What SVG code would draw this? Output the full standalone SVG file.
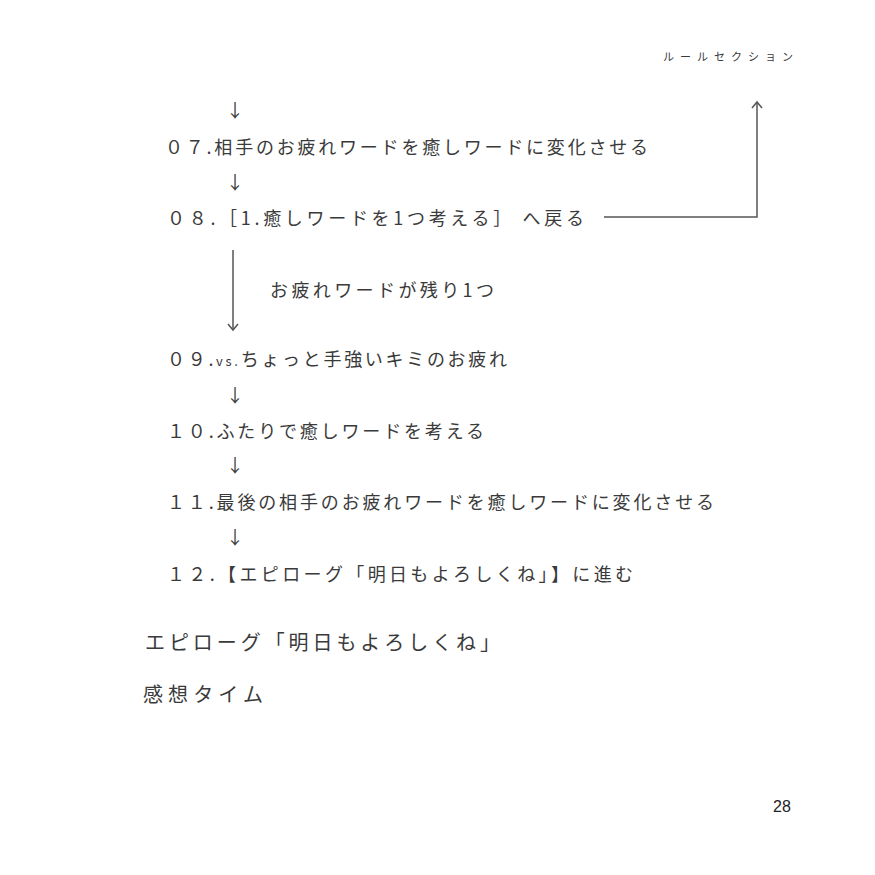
<svg xmlns="http://www.w3.org/2000/svg" width="875" height="875" viewBox="0 0 875 875">
<defs>
<style>
.t{font-family:"Noto Sans CJK JP","Noto Sans",sans-serif;fill:#3a3a3a;font-size:18px;}
.s{font-size:13px;}
.b{font-size:20px;}
.h{font-size:11px;}
.a{font-family:"Noto Sans CJK JP",sans-serif;fill:#3a3a3a;font-size:18px;text-anchor:middle;}
.c{fill:none;stroke:#555;stroke-width:1.5;}
</style>
<marker id="op" viewBox="0 0 12 12" refX="8" refY="6" markerWidth="12" markerHeight="12" markerUnits="userSpaceOnUse" orient="auto">
<path d="M2 1 L8 6 L2 11" fill="none" stroke="#555" stroke-width="1.5"/>
</marker>
</defs>
<rect width="875" height="875" fill="#fff"/>
<g id="header"><text class="t h" x="663" y="61" textLength="130" lengthAdjust="spacing">ルールセクション</text></g>
<g id="connectors">
<text class="a" x="235" y="117">↓</text>
<text class="a" x="235" y="189">↓</text>
<text class="a" x="235" y="402">↓</text>
<text class="a" x="235" y="472">↓</text>
<text class="a" x="235" y="544">↓</text>
<path class="c" d="M604 217 H757 V102" marker-end="url(#op)"/>
<path class="c" d="M233 250 V330" marker-end="url(#op)"/>
</g>
<g id="step07"><text class="t" x="165" y="154" textLength="483" lengthAdjust="spacing">０７.相手のお疲れワードを癒しワードに変化させる</text></g>
<g id="step08"><text class="t" x="167" y="225" textLength="417" lengthAdjust="spacing">０８.［1.癒しワードを1つ考える］ へ戻る</text></g>
<g id="cond"><text class="t" x="270" y="297" textLength="224" lengthAdjust="spacing">お疲れワードが残り1つ</text></g>
<g id="step09"><text class="t" x="167" y="366" textLength="340" lengthAdjust="spacing">０９.<tspan class="s">vs.</tspan>ちょっと手強いキミのお疲れ</text></g>
<g id="step10"><text class="t" x="167" y="438" textLength="317" lengthAdjust="spacing">１０.ふたりで癒しワードを考える</text></g>
<g id="step11"><text class="t" x="167" y="509" textLength="547" lengthAdjust="spacing">１１.最後の相手のお疲れワードを癒しワードに変化させる</text></g>
<g id="step12"><text class="t" x="167" y="581" textLength="466" lengthAdjust="spacing">１２.【エピローグ「明日もよろしくね」】に進む</text></g>
<g id="epilogue"><text class="t b" x="145" y="650" textLength="355" lengthAdjust="spacing">エピローグ「明日もよろしくね」</text></g>
<g id="kanso"><text class="t b" x="143" y="702" textLength="120" lengthAdjust="spacing">感想タイム</text></g>
<g id="page"><text x="773" y="812" font-family="Liberation Sans,Arial,sans-serif" font-size="16" fill="#222">28</text></g>
</svg>
